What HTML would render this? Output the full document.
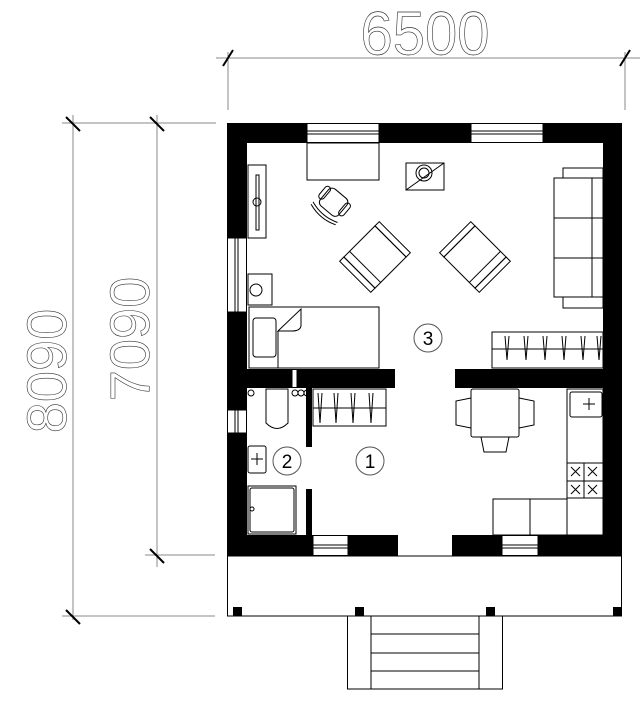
<!DOCTYPE html>
<html><head><meta charset="utf-8"><style>html,body{margin:0;padding:0;background:#fff}svg{display:block}</style></head>
<body>
<svg width="640" height="701" viewBox="0 0 640 701" xmlns="http://www.w3.org/2000/svg">
<g stroke="#888" stroke-width="1" fill="none">
<line x1="216" y1="58" x2="640" y2="58"/>
<line x1="228" y1="52" x2="228" y2="110"/>
<line x1="625" y1="52" x2="625" y2="110"/>
<line x1="62" y1="123" x2="216" y2="123"/>
<line x1="73" y1="115" x2="73" y2="620"/>
<line x1="157" y1="115" x2="157" y2="567"/>
<line x1="145" y1="555" x2="215" y2="555"/>
<line x1="62" y1="616" x2="215" y2="616"/>
</g>
<g stroke="#000" stroke-width="2">
<line x1="223" y1="66" x2="233" y2="50"/><line x1="620" y1="66" x2="630" y2="50"/>
<line x1="66" y1="117" x2="80" y2="131"/><line x1="150" y1="117" x2="164" y2="131"/>
<line x1="150" y1="549" x2="164" y2="563"/><line x1="66" y1="610" x2="80" y2="624"/>
</g>
<g font-family="Liberation Sans, sans-serif" fill="none" stroke="#333" stroke-width="0.6" font-size="58">
<text x="425" y="52" text-anchor="middle" transform="translate(425 0) scale(1 1.05) translate(-425 0)">6500</text>
<text transform="translate(66 371) rotate(-90)" text-anchor="middle" font-size="56">8090</text>
<text transform="translate(149 339) rotate(-90)" text-anchor="middle" font-size="56">7090</text>
</g>
<g stroke="#000" stroke-width="1" fill="none">
<rect x="227.5" y="556" width="394" height="60"/>
<rect x="347.5" y="616" width="155" height="73"/>
<line x1="371" y1="616" x2="371" y2="689"/><line x1="479" y1="616" x2="479" y2="689"/>
<line x1="371" y1="634" x2="479" y2="634"/><line x1="371" y1="653" x2="479" y2="653"/><line x1="371" y1="671" x2="479" y2="671"/>
</g>
<g fill="#000">
<rect x="233" y="607" width="9" height="9"/><rect x="355" y="607" width="9" height="9"/>
<rect x="486" y="607" width="9" height="9"/><rect x="613" y="607" width="9" height="9"/>
<rect x="227" y="123" width="395" height="20"/>
<rect x="227" y="123" width="20" height="433"/>
<rect x="603" y="123" width="19" height="433"/>
<rect x="227" y="369" width="168" height="19"/>
<rect x="455" y="369" width="167" height="19"/>
<rect x="227" y="535" width="171" height="21"/>
<rect x="452" y="535" width="170" height="21"/>
<rect x="306" y="388" width="6" height="59"/>
<rect x="306" y="489" width="6" height="46"/>
</g>
<g fill="#fff" stroke="#000" stroke-width="1">
<rect x="307" y="123.5" width="72" height="19"/>
<rect x="471" y="123.5" width="72" height="19"/>
<rect x="227.5" y="238" width="19" height="74"/>
<rect x="227.5" y="410" width="19" height="23"/>
<rect x="313" y="535.5" width="35" height="20"/>
<rect x="502" y="535.5" width="36" height="20"/>
<rect x="292" y="369.5" width="5" height="18"/>
</g>
<g stroke="#000" stroke-width="1" fill="none">
<line x1="307" y1="131" x2="379" y2="131"/><line x1="307" y1="134" x2="379" y2="134"/>
<line x1="471" y1="131" x2="543" y2="131"/><line x1="471" y1="134" x2="543" y2="134"/>
<line x1="235" y1="238" x2="235" y2="312"/><line x1="238" y1="238" x2="238" y2="312"/>
<line x1="235" y1="410" x2="235" y2="433"/><line x1="238" y1="410" x2="238" y2="433"/>
<line x1="313" y1="545" x2="348" y2="545"/><line x1="313" y1="548" x2="348" y2="548"/>
<line x1="502" y1="545" x2="538" y2="545"/><line x1="502" y1="548" x2="538" y2="548"/>
<rect x="307" y="143" width="72" height="37"/>
<rect x="406" y="163" width="38" height="27"/><line x1="406" y1="190" x2="444" y2="163"/>
<circle cx="424" cy="173" r="8"/><circle cx="424" cy="173" r="5"/>
<rect x="248" y="165" width="18" height="73"/><rect x="256" y="175" width="3" height="55"/>
<circle cx="257" cy="202" r="4"/>
<rect x="248" y="274" width="24" height="31"/><circle cx="256" cy="290" r="6"/>
<rect x="249" y="307" width="130" height="61"/>
<rect x="253" y="318" width="23" height="39" rx="3"/>
<path d="M278 331 L301 309 L301 326 Q300 331 292 331 Z"/>
<line x1="278" y1="331" x2="278" y2="368"/>
<rect x="554" y="178" width="49" height="119"/>
<rect x="563" y="168" width="40" height="10"/><rect x="563" y="297" width="40" height="11"/>
<line x1="554" y1="218" x2="603" y2="218"/><line x1="554" y1="258" x2="603" y2="258"/>
<line x1="592" y1="178" x2="592" y2="297"/>
<rect x="492" y="332" width="111" height="36"/><line x1="492" y1="349" x2="603" y2="349"/>
<path d="M505 336 l2 24 l2 -24 M524 336 l2 24 l2 -24 M543 336 l2 24 l2 -24 M562 336 l2 24 l2 -24 M581 336 l2 24 l2 -24 M597 336 l2 24 l2 -24"/>
<g transform="translate(333 203) rotate(40)">
<rect x="-12" y="-12" width="24" height="22" rx="5"/>
<rect x="-16" y="-10" width="6" height="15" rx="3"/><rect x="10" y="-10" width="6" height="15" rx="3"/>
<path d="M-16 12 Q0 18 16 12"/><path d="M-16 15 Q0 21 16 15"/>
</g>
<g transform="translate(375 257) rotate(45)">
<rect x="-22" y="-22" width="44" height="44"/>
<rect x="-22" y="-28" width="44" height="6"/><rect x="-22" y="22" width="44" height="6"/>
<line x1="-22" y1="14" x2="22" y2="14"/>
</g>
<g transform="translate(475 257) rotate(-45)">
<rect x="-22" y="-22" width="44" height="44"/>
<rect x="-22" y="-28" width="44" height="6"/><rect x="-22" y="22" width="44" height="6"/>
<line x1="-22" y1="14" x2="22" y2="14"/>
</g>
<path d="M266 389 L266 423 Q277 434 288 423 L288 389 Z"/>
<circle cx="251" cy="393" r="3"/><circle cx="295" cy="393" r="3"/><circle cx="301" cy="393" r="3"/><circle cx="307" cy="393" r="3"/>
<rect x="248" y="446" width="18" height="27" rx="2"/>
<line x1="251" y1="459" x2="263" y2="459"/><line x1="257" y1="453" x2="257" y2="465"/>
<rect x="248" y="486" width="48" height="48"/><rect x="250" y="488" width="44" height="44" rx="2"/>
<circle cx="252" cy="509" r="2"/>
<rect x="313" y="389" width="73" height="37"/><line x1="313" y1="408" x2="386" y2="408"/>
<path d="M318 393 l2 30 l2 -30 M334 393 l2 30 l2 -30 M351 393 l2 30 l2 -30 M369 393 l2 30 l2 -30"/>
<rect x="471" y="389" width="48" height="48" rx="2"/>
<path d="M471 398 L456 401 L456 425 L471 428"/>
<path d="M519 398 L534 401 L534 425 L519 428"/>
<path d="M481 437 L484 452 L506 452 L509 437"/>
<rect x="567" y="389" width="36" height="146"/>
<rect x="570" y="392" width="32" height="25" rx="2"/>
<line x1="583" y1="404" x2="595" y2="404"/><line x1="589" y1="398" x2="589" y2="410"/>
<line x1="567" y1="463" x2="603" y2="463"/><line x1="567" y1="498" x2="603" y2="498"/>
<line x1="584" y1="463" x2="584" y2="498"/><line x1="567" y1="481" x2="603" y2="481"/>
<path d="M571 467 l9 9 M580 467 l-9 9 M588 467 l9 9 M597 467 l-9 9 M571 485 l9 9 M580 485 l-9 9 M588 485 l9 9 M597 485 l-9 9"/>
<rect x="493" y="499" width="74" height="36"/><line x1="530" y1="499" x2="530" y2="535"/>
</g>
<g stroke="#555" stroke-width="1" fill="#fff">
<circle cx="428" cy="338" r="14"/><circle cx="287" cy="461" r="14"/><circle cx="370" cy="461" r="14"/>
</g>
<g font-family="Liberation Sans, sans-serif" font-size="19" text-anchor="middle" fill="#000">
<text x="428" y="345">3</text><text x="287" y="468">2</text><text x="370" y="468">1</text>
</g>
</svg>
</body></html>
